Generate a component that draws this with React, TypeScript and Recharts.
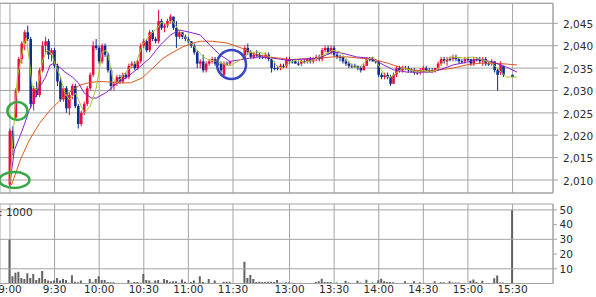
import { ComposedChart, Bar, Line, XAxis, YAxis, CartesianGrid, ReferenceLine, ReferenceDot } from 'recharts';

const W = 596;
const H = 297;
const FONT = '"DejaVu Sans", Verdana, sans-serif';
const GRID = '#a4a4a4';
const TEXT = '#2a2a2a';
const UP = '#ec0a3e';
const DOWN = '#0c2c8e';
const VOL = '#626262';

// time labels on the axis (lunch break collapsed)
const X_LABELS = ['9:00', '9:30', '10:00', '10:30', '11:00', '11:30', '13:00', '13:30', '14:00', '14:30', '15:00', '15:30'];
const PRICE_TICKS = [2010, 2015, 2020, 2025, 2030, 2035, 2040, 2045];
const VOL_TICKS = [10, 20, 30, 40, 50];
const VOL_GRID = [10, 30, 50];

// 2-minute bars, [open, high, low, close]
const AM_START = '9:00';
const AM_BARS = [
  [2009, 2021.5, 2008.5, 2021], [2021, 2022, 2015.5, 2017], [2024, 2030.5, 2023.5, 2030], [2030, 2037.5, 2029.5, 2037],
  [2037, 2041, 2036, 2040.5], [2040.5, 2043.5, 2039, 2043], [2043, 2044.5, 2041, 2041.5], [2041.5, 2042, 2026, 2027],
  [2027, 2031, 2025.5, 2030.5], [2030.5, 2032, 2028.5, 2029], [2029, 2035, 2028.5, 2034.5], [2034.5, 2041, 2034, 2040],
  [2040, 2042, 2038.5, 2041], [2041, 2041.5, 2037, 2038], [2038, 2039.5, 2036.5, 2039], [2039, 2039.5, 2035, 2035.5],
  [2035.5, 2036, 2031, 2032], [2032, 2033, 2027.5, 2028], [2028, 2031, 2027.5, 2030.5], [2030.5, 2031, 2025, 2026],
  [2026, 2029.5, 2024.5, 2029], [2029, 2031.5, 2028, 2031], [2031, 2031.5, 2026, 2026.5], [2026.5, 2027, 2021.5, 2022.5],
  [2022.5, 2025.5, 2022, 2025], [2025, 2027.5, 2024.5, 2027], [2027, 2031, 2026.5, 2030.5], [2030.5, 2034, 2030, 2033.5],
  [2033.5, 2041, 2033, 2040], [2040, 2041.5, 2039, 2039.5], [2039.5, 2040, 2036, 2036.5], [2036.5, 2040.5, 2036, 2040],
  [2040, 2040.5, 2037.5, 2038], [2038, 2038.5, 2034, 2034.5], [2034.5, 2035, 2030, 2031], [2031, 2032, 2030, 2031.5],
  [2031.5, 2033.5, 2031, 2033], [2033, 2033.5, 2031.5, 2032], [2032, 2034, 2031.5, 2033.5], [2033.5, 2034, 2032.5, 2033],
  [2033, 2036, 2032.5, 2035.5], [2035.5, 2036.5, 2035, 2036], [2036, 2036.5, 2034.5, 2035], [2035, 2037, 2034.5, 2036.5],
  [2036.5, 2040.5, 2036, 2040], [2040, 2041.5, 2039.5, 2041], [2041, 2041.5, 2038.5, 2039], [2039, 2043.5, 2038.5, 2043],
  [2043, 2043.5, 2041, 2041.5], [2041.5, 2042, 2040.5, 2041], [2041, 2048, 2040.5, 2045.5], [2045.5, 2046, 2043.5, 2044],
  [2044, 2045, 2043, 2044.5], [2044.5, 2046, 2044, 2045.5], [2045.5, 2047, 2045, 2046.5], [2046.5, 2046.5, 2043.5, 2044],
  [2044, 2045.5, 2039.5, 2042], [2042, 2043.5, 2041.5, 2043], [2043, 2043, 2041.5, 2042], [2042, 2042.5, 2041, 2041.5],
  [2041.5, 2042, 2040.5, 2041], [2041, 2041, 2039.5, 2040], [2040, 2040.5, 2038, 2038.5], [2038.5, 2039, 2035, 2036],
  [2036, 2037, 2035, 2036.5], [2036.5, 2038, 2034, 2034.5], [2034.5, 2036.5, 2034, 2036], [2036, 2037, 2035.5, 2036.5],
  [2036.5, 2037.5, 2036, 2037], [2037, 2037.5, 2035.5, 2036], [2036, 2036.5, 2035.5, 2036], [2036, 2036.5, 2034, 2034.5],
  [2033.5, 2036.5, 2033, 2036], [2036, 2036.5, 2035.5, 2036], [2036, 2036.5, 2035.5, 2036.5],
];
const AM_VOL = [
  30, 5, 7.3, 8, 3.7, 3, 7, 3.7, 6.5, 2.4, 3.7, 8.5, 3, 2, 1.5, 2, 3.7, 2, 3, 2.3,
  0.5, 5.6, 1.2, 0.8, 2, 0.3, 0.3, 3, 0.8, 3, 5, 2.3, 2.3, 1, 0.8, 0.8, 0.3, 0, 0, 0.3,
  2.3, 0.5, 1, 1, 0.5, 6.5, 2.3, 2, 0.5, 2, 2.3, 0.5, 3, 2.3, 1.2, 1.5, 1.5, 0.5, 2.7, 1.2,
  0.3, 1, 2, 0.3, 5, 1, 0.5, 3, 0.3, 2, 0.3, 0.3, 1.2, 1.2, 1.2,
];

const PM_START = '12:30';
const PM_BARS = [
  [2037, 2040, 2036.5, 2039.5], [2039.5, 2040.5, 2038, 2038.5], [2038.5, 2039, 2037, 2037.5], [2037.5, 2038.5, 2037, 2038],
  [2038, 2039, 2037.5, 2038], [2038, 2038.5, 2037, 2037.5], [2037.5, 2038, 2037, 2037.5], [2037.5, 2038.5, 2037, 2038],
  [2038, 2038.5, 2036.5, 2037], [2037, 2037.5, 2034, 2035], [2035, 2036.5, 2034.5, 2035], [2035, 2035.5, 2034.5, 2035],
  [2035, 2036, 2034.5, 2035.5], [2035.5, 2036, 2035, 2035.5], [2035.5, 2037.5, 2035, 2037], [2037, 2037.5, 2036, 2036.5],
  [2036.5, 2037, 2036, 2036.5], [2036.5, 2037, 2036, 2036], [2036, 2036.5, 2035.5, 2036], [2036, 2037, 2035.5, 2036.5],
  [2036.5, 2037, 2036, 2036.5], [2036.5, 2037, 2036, 2037], [2037, 2037.5, 2036, 2036.5], [2036.5, 2037.5, 2036, 2037],
  [2037, 2038, 2036.5, 2037.5], [2037.5, 2038, 2036.5, 2037], [2037, 2039.5, 2036.5, 2039], [2039, 2040, 2038.5, 2039.5],
  [2039.5, 2040, 2038, 2038.5], [2038.5, 2040, 2038, 2039.5], [2039.5, 2040, 2037.5, 2038], [2038, 2038.5, 2037, 2037.5],
  [2037.5, 2038, 2036.5, 2037.5], [2037.5, 2037.5, 2036, 2036.5], [2036.5, 2037, 2035.5, 2036], [2036, 2036.5, 2035, 2035.5],
  [2035.5, 2036, 2035, 2035.5], [2035.5, 2036, 2035, 2035.5], [2035.5, 2035.5, 2034.5, 2035], [2035, 2035.5, 2034, 2034.5],
  [2034.5, 2036, 2034.5, 2035.5], [2035.5, 2037.5, 2035.5, 2037], [2037, 2037.5, 2036.5, 2037], [2037, 2037.5, 2036.5, 2036.5],
  [2036.5, 2037, 2036, 2036.5], [2036.5, 2036.5, 2033, 2033.5], [2033.5, 2034, 2032.5, 2033], [2033, 2034, 2032.5, 2033.5],
  [2033.5, 2034, 2032.5, 2033], [2033, 2033.5, 2031, 2031.5], [2031.5, 2034, 2031.5, 2033.5], [2033.5, 2035.5, 2033, 2035],
  [2035, 2035.5, 2034, 2034.5], [2034.5, 2035.5, 2034, 2035], [2035, 2035.5, 2034.5, 2035], [2035, 2035.5, 2034, 2034.5],
  [2034.5, 2035, 2034, 2034.5], [2034.5, 2035, 2033.5, 2034], [2034, 2034.5, 2033.5, 2034], [2034, 2035, 2033.5, 2034.5],
  [2034.5, 2035.5, 2034, 2035], [2035, 2035.5, 2034, 2034.5], [2034.5, 2035, 2034, 2034.5], [2034.5, 2035, 2034, 2034.5],
  [2034.5, 2035, 2034, 2035], [2035, 2036.5, 2034.5, 2036], [2036, 2037.5, 2035.5, 2037], [2037, 2037.5, 2036, 2036.5],
  [2036.5, 2037.5, 2035.5, 2037], [2037, 2037.5, 2036.5, 2037], [2037, 2038, 2036.5, 2037.5], [2037.5, 2038, 2036.5, 2037],
  [2037, 2037.5, 2036, 2036.5], [2036.5, 2037, 2036, 2036.5], [2036.5, 2037.5, 2036, 2037], [2037, 2037.5, 2036.5, 2037],
  [2037, 2037, 2035.5, 2036], [2036, 2037.5, 2035.5, 2037], [2037, 2037.5, 2036.5, 2037], [2037, 2037.5, 2036, 2036.5],
  [2036.5, 2037.5, 2035.5, 2037], [2037, 2037.5, 2035.5, 2036], [2036, 2036.5, 2035.5, 2036], [2036, 2037, 2035.5, 2036.5],
  [2036.5, 2036.5, 2034, 2034.5], [2034.5, 2035, 2030, 2033.5], [2034, 2036.5, 2033.5, 2035.8], [2035.5, 2035.5, 2033, 2033.5],
];
const PM_VOL = [
  14.8, 3.7, 5.8, 3, 1, 1.2, 1, 1, 1.2, 1.2, 1, 2.3, 0.5, 0.5, 0.8, 0.8, 0.5, 0, 0, 0,
  0, 0, 0, 0.3, 1, 1.5, 3.2, 1, 1, 1, 0, 0.7, 0, 0, 1.8, 0.7, 0, 0, 1.8, 0.7,
  0, 2.5, 0, 0.7, 0, 2.2, 3.2, 1.5, 1, 1, 0.8, 0, 0, 0, 1.5, 0, 0, 1.5, 0, 0.8,
  0, 0, 0, 0, 1.5, 0, 0.8, 0.8, 0, 1.5, 0.7, 0.7, 0.7, 0, 0, 0, 1.8, 2.7, 1, 0,
  1.8, 0, 0, 0, 3.5, 5.5, 0.7, 0.7,
];

const CLOSE_TIME = '15:30';
const CLOSE_BAR = [2033.5, 2033.5, 2033, 2033];
const CLOSE_VOL = 50;

// moving averages, [time, price]
const MA_SHORT: [string, number][] = [
  ['9:00', 2009.3], ['9:03', 2024.1], ['9:05', 2033], ['9:09', 2039.7], ['9:11', 2041.8], ['9:13', 2036.8],
  ['9:15', 2030.8], ['9:18', 2030.1], ['9:20', 2033], ['9:22', 2036.8], ['9:25', 2039], ['9:28', 2038.3],
  ['9:30', 2036.1], ['9:34', 2033], ['9:37', 2029.4], ['9:40', 2027.9], ['9:44', 2029.4], ['9:47', 2027.2],
  ['9:50', 2025], ['9:54', 2026.5], ['9:58', 2030.5], ['10:02', 2038.6], ['10:05', 2039], ['10:07', 2036.3],
  ['10:09', 2032.8], ['10:12', 2031.7], ['10:16', 2033.4], ['10:21', 2035.2], ['10:25', 2036.3], ['10:29', 2040.1],
  ['10:34', 2042.4], ['10:39', 2043.9], ['10:42', 2045.3], ['10:46', 2044.6], ['10:49', 2045.7], ['10:52', 2044.2],
  ['10:56', 2042.4], ['11:01', 2040.8], ['11:06', 2039], ['11:10', 2037.5], ['11:14', 2036.8], ['11:19', 2036.5],
  ['11:23', 2036], ['11:28', 2035.5], ['12:30', 2037.5], ['12:32', 2038.5], ['12:38', 2038.6], ['12:43', 2038.3],
  ['12:48', 2037.2], ['12:52', 2035.2], ['12:56', 2035], ['13:00', 2036.3], ['13:05', 2036.8], ['13:10', 2036.3],
  ['13:16', 2036.8], ['13:20', 2037.5], ['13:25', 2038.3], ['13:29', 2039], ['13:34', 2038.6], ['13:39', 2036.8],
  ['13:43', 2035.2], ['13:47', 2035.2], ['13:52', 2036.8], ['13:56', 2037.5], ['13:59', 2036.1], ['14:03', 2033.9],
  ['14:07', 2032.8], ['14:12', 2033.9], ['14:16', 2035], ['14:21', 2034.6], ['14:26', 2034.1], ['14:30', 2034.5],
  ['14:34', 2034.1], ['14:39', 2034.5], ['14:43', 2036.3], ['14:48', 2037.5], ['14:59', 2037.2], ['15:03', 2037.5],
  ['15:10', 2036.8], ['15:15', 2036.3], ['15:19', 2035.2], ['15:23', 2033.9], ['15:26', 2033], ['15:33', 2033],
];
const MA_MID: [string, number][] = [
  ['9:00', 2009.3], ['9:03', 2016.7], ['9:07', 2020], ['9:10', 2022.7], ['9:13', 2025.6], ['9:17', 2028.5],
  ['9:20', 2030.8], ['9:24', 2033], ['9:27', 2035.7], ['9:30', 2036.1], ['9:34', 2035], ['9:37', 2034.1],
  ['9:42', 2033], ['9:46', 2031.7], ['9:50', 2029.4], ['9:55', 2028.3], ['9:58', 2028.3], ['10:05', 2029.6],
  ['10:12', 2031.7], ['10:19', 2033], ['10:27', 2035.2], ['10:34', 2037.2], ['10:41', 2040.1], ['10:48', 2042.4],
  ['10:54', 2043.5], ['11:01', 2043], ['11:08', 2042.4], ['11:14', 2040.3], ['11:21', 2038], ['11:28', 2036.5],
  ['12:33', 2037.2], ['12:40', 2037.5], ['12:49', 2037.2], ['12:58', 2036.8], ['13:20', 2037.2], ['13:29', 2038.6],
  ['13:36', 2038.3], ['13:45', 2037.5], ['13:54', 2037.2], ['14:01', 2036.1], ['14:10', 2034.6], ['14:19', 2034.1],
  ['14:28', 2034.1], ['14:36', 2034.1], ['14:46', 2035.2], ['14:50', 2035.7], ['14:59', 2036.3], ['15:08', 2037],
  ['15:17', 2036.3], ['15:26', 2035.2], ['15:33', 2034.1],
];
const MA_LONG: [string, number][] = [
  ['9:01', 2008.9], ['9:07', 2014.5], ['9:13', 2018.9], ['9:20', 2022.7], ['9:27', 2025.6], ['9:34', 2027.9],
  ['9:40', 2029.6], ['9:47', 2031.2], ['9:54', 2031.8], ['10:00', 2032], ['10:07', 2031.9], ['10:14', 2031.7],
  ['10:21', 2031.7], ['10:29', 2032.8], ['10:36', 2035], ['10:43', 2037.2], ['10:50', 2038.6], ['10:56', 2039.7],
  ['11:03', 2040.6], ['11:08', 2041], ['11:16', 2041], ['11:26', 2040.6], ['12:30', 2039.2], ['12:35', 2038.3],
  ['12:45', 2037.5], ['12:54', 2037.2], ['13:00', 2036.9], ['13:20', 2037.2], ['13:29', 2037.5], ['13:39', 2037.5],
  ['13:47', 2037.2], ['13:56', 2037], ['14:06', 2036.1], ['14:14', 2035.2], ['14:23', 2034.6], ['14:32', 2034.3],
  ['14:41', 2034.6], ['14:50', 2035], ['14:59', 2035.7], ['15:08', 2036.1], ['15:17', 2036.1], ['15:26', 2035.9],
  ['15:33', 2035.7],
];

// minutes from 9:00, with the lunch break shortened
const toT = (s: string) => {
  const [h, m] = s.split(':').map(Number);
  const min = h * 60 + m;
  return min <= 690 ? min - 540 : min - 750 + 158;
};

const X_DOMAIN: [number, number] = [-6.7, 365.2];
const P_DOMAIN: [number, number] = [2007.1, 2049.47];
const V_DOMAIN: [number, number] = [0, 54];

const toBar = (start: string) => (b: number[], i: number, vols: number[]) => ({
  t: toT(start) + 2 * i,
  o: b[0],
  h: b[1],
  l: b[2],
  c: b[3],
  v: vols[i],
});

const candles = [
  ...AM_BARS.map((b, i) => toBar(AM_START)(b, i, AM_VOL)),
  ...PM_BARS.map((b, i) => toBar(PM_START)(b, i, PM_VOL)),
  { t: toT(CLOSE_TIME), o: CLOSE_BAR[0], h: CLOSE_BAR[1], l: CLOSE_BAR[2], c: CLOSE_BAR[3], v: CLOSE_VOL },
];

const pts = (arr: [string, number][]) => arr.map(([time, v]) => ({ t: toT(time), v }));
const xTicks = X_LABELS.map(toT);
const labelOf = new Map(X_LABELS.map((s) => [toT(s), s]));

const Candle = (props: any) => {
  const { x, y, width, height, payload } = props;
  if (x == null || !payload) return null;
  const { o, h, l, c } = payload;
  const top = Math.min(y, y + height);
  const span = Math.abs(height);
  const toY = (v: number) => (h === l ? top : top + ((h - v) / (h - l)) * span);
  const color = c > o ? UP : DOWN;
  const cx = x + width / 2;
  const yo = toY(o);
  const yc = toY(c);
  const bTop = Math.min(yo, yc);
  const bH = Math.max(Math.abs(yo - yc), 1);
  return (
    <g>
      <line x1={cx} x2={cx} y1={top} y2={top + span} stroke={color} strokeWidth={1} />
      <rect x={cx - 1.3} y={bTop} width={2.6} height={bH} fill={color} />
    </g>
  );
};

const PriceTick = (props: any) => {
  const { x, y, payload } = props;
  return (
    <text x={x} y={y + 1} dy="0.355em" textAnchor="start" fontFamily={FONT} fontSize={10.5} fill={TEXT}>
      {payload.value.toLocaleString('en-US')}
    </text>
  );
};

const VolTick = (props: any) => {
  const { x, y, payload } = props;
  return (
    <text x={x} y={y} dy="0.355em" textAnchor="start" fontFamily={FONT} fontSize={10.5} fill={TEXT}>
      {payload.value}
    </text>
  );
};

const TimeTick = (props: any) => {
  const { x, y, payload } = props;
  return (
    <text x={x} y={y + 2.4} dy="0.71em" textAnchor="middle" fontFamily={FONT} fontSize={10.5} fill={TEXT}>
      {labelOf.get(payload.value) ?? ''}
    </text>
  );
};

const ring = (rx: number, ry: number, color: string) => (p: any) => (
  <ellipse cx={p.cx} cy={p.cy} rx={rx} ry={ry} fill="none" stroke={color} strokeWidth={2.5} />
);

export default function App() {
  return (
    <div style={{ position: 'absolute', left: 0, top: 0, width: W, height: H, background: '#fff' }}>
      <div style={{ position: 'absolute', left: 0, top: 0 }}>
        <ComposedChart width={W} height={H} data={candles} margin={{ top: 3.3, right: 0, bottom: 104, left: 0 }}>
          <CartesianGrid stroke={GRID} />
          <XAxis type="number" dataKey="t" domain={X_DOMAIN} ticks={xTicks} allowDataOverflow hide />
          <YAxis
            orientation="right"
            width={43}
            domain={P_DOMAIN}
            ticks={PRICE_TICKS}
            interval={0}
            allowDataOverflow
            tickSize={5}
            tickMargin={5}
            axisLine={{ stroke: GRID }}
            tickLine={{ stroke: GRID }}
            tick={<PriceTick />}
          />
          <ReferenceLine y={P_DOMAIN[0]} stroke={GRID} />
          <ReferenceLine y={P_DOMAIN[1]} stroke={GRID} />
          <Bar dataKey={(d: any) => [d.l, d.h]} barSize={2} shape={<Candle />} isAnimationActive={false} />
          <Line data={pts(MA_LONG)} dataKey="v" stroke="#e0561e" strokeWidth={1} dot={false} isAnimationActive={false} />
          <Line data={pts(MA_MID)} dataKey="v" stroke="#8a1fd0" strokeWidth={1} dot={false} isAnimationActive={false} />
          <Line data={pts(MA_SHORT)} dataKey="v" stroke="#aac42a" strokeWidth={1} dot={false} isAnimationActive={false} />
          <ReferenceDot x={toT('9:05')} y={2025.4} r={10} shape={ring(10, 9, '#36a846')} />
          <ReferenceDot x={toT('9:03')} y={2010} r={10} shape={ring(15, 8, '#36a846')} />
          <ReferenceDot x={toT('11:29')} y={2035.8} r={14} shape={ring(14.5, 14.5, '#3a48c0')} />
        </ComposedChart>
      </div>
      <div style={{ position: 'absolute', left: 0, top: 0 }}>
        <ComposedChart width={W} height={H} data={candles} margin={{ top: 204, right: 0, bottom: 0, left: 0 }}>
          <CartesianGrid stroke={GRID} horizontal={false} />
          <XAxis
            type="number"
            dataKey="t"
            domain={X_DOMAIN}
            ticks={xTicks}
            interval={0}
            allowDataOverflow
            height={13.5}
            tickSize={0}
            tickMargin={0}
            tickLine={false}
            axisLine={{ stroke: GRID }}
            tick={<TimeTick />}
          />
          <YAxis
            orientation="right"
            width={43}
            domain={V_DOMAIN}
            ticks={VOL_TICKS}
            interval={0}
            allowDataOverflow
            tickSize={4}
            tickMargin={2.5}
            axisLine={{ stroke: GRID }}
            tickLine={{ stroke: GRID }}
            tick={<VolTick />}
          />
          {VOL_GRID.map((v) => (
            <ReferenceLine key={v} y={v} stroke={GRID} />
          ))}
          <ReferenceLine y={V_DOMAIN[1]} stroke={GRID} />
          <Bar dataKey="v" barSize={2} fill={VOL} isAnimationActive={false} />
        </ComposedChart>
      </div>
      <svg width={W} height={H} style={{ position: 'absolute', left: 0, top: 0, pointerEvents: 'none' }}>
        <text x={-1} y={216} fontFamily={FONT} fontSize={10.5} fill={TEXT}>
          : 1000
        </text>
      </svg>
    </div>
  );
}
